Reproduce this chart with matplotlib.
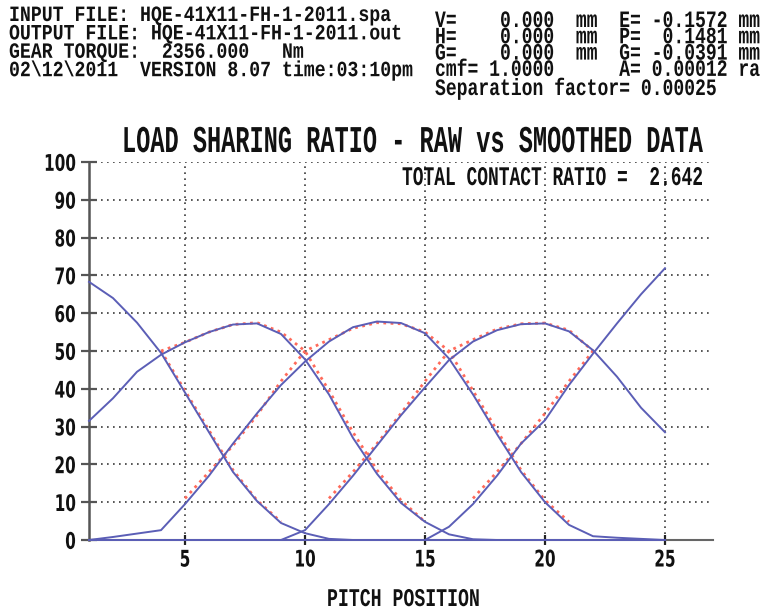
import numpy as np
import matplotlib
matplotlib.use("Agg")
import matplotlib.pyplot as plt
from matplotlib import patheffects
from matplotlib.transforms import Affine2D

# ---- data -------------------------------------------------------------
pitch = np.arange(1, 26)

raw_a = [68.3, 64.0, 57.5, 49.5, 39.0, 28.5, 18.0, 10.3, 4.5, 1.8, 0.3, 0, 0,
         0, 0, 0, 0, 0, 0, 0, 0, 0, 0, 0, 0]
raw_b = [31.5, 37.5, 44.5, 49.0, 52.3, 55.0, 57.0, 57.3, 54.5, 47.8, 38.5, 27.0,
         17.5, 9.8, 4.8, 1.5, 0.2, 0, 0, 0, 0, 0, 0, 0, 0]
raw_c = [0, 0.8, 1.7, 2.6, 9.5, 17.0, 25.5, 33.5, 41.0, 47.2, 52.5, 56.3, 57.8,
         57.4, 54.7, 48.0, 38.5, 28.0, 18.0, 10.0, 4.0, 1.0, 0.6, 0.3, 0]
raw_d = [0, 0, 0, 0, 0, 0, 0, 0, 0, 2.6, 9.5, 17.0, 25.0, 33.0, 40.4, 47.6,
         52.5, 55.5, 57.1, 57.3, 55.2, 50.2, 43.2, 35.0, 28.5]
raw_e = [0, 0, 0, 0, 0, 0, 0, 0, 0, 0, 0, 0, 0, 0, 0, 3.5, 9.5, 17.0, 25.5,
         31.7, 41.0, 49.3, 57.3, 65.0, 71.9]

nan = np.nan
smooth_a = [nan, nan, nan, 50.0, 39.5, 29.0, 18.5, 10.5, 4.8, nan, nan, nan, nan,
            nan, nan, nan, nan, nan, nan, nan, nan, nan, nan, nan, nan]
smooth_b = [nan, nan, nan, 50.0, 52.3, 55.0, 57.0, 57.5, 55.0, 50.0, 39.5, 28.5,
            18.5, 10.5, 4.8, nan, nan, nan, nan, nan, nan, nan, nan, nan, nan]
smooth_c = [nan, nan, nan, nan, 11.0, 18.0, 25.0, 33.0, 42.0, 50.0, 53.0, 56.0,
            57.5, 57.2, 55.0, 50.0, 39.5, 29.0, 18.5, 10.5, 4.8, nan, nan, nan, nan]
smooth_d = [nan, nan, nan, nan, nan, nan, nan, nan, nan, nan, 11.0, 18.0, 25.5,
            33.5, 42.0, 50.0, 53.0, 55.8, 57.2, 57.4, 55.5, 50.0, nan, nan, nan]
smooth_e = [nan, nan, nan, nan, nan, nan, nan, nan, nan, nan, nan, nan, nan, nan,
            nan, nan, 11.0, 18.0, 25.5, 33.5, 42.0, 50.0, nan, nan, nan]

raw_series = [raw_a, raw_b, raw_c, raw_d, raw_e]
smooth_series = [smooth_a, smooth_b, smooth_c, smooth_d, smooth_e]

x_ticks = [5, 10, 15, 20, 25]
y_ticks = list(range(0, 101, 10))

header_left = [
    "INPUT FILE: HQE-41X11-FH-1-2011.spa",
    "OUTPUT FILE: HQE-41X11-FH-1-2011.out",
    "GEAR TORQUE:  2356.000   Nm",
    "02\\12\\2011  VERSION 8.07 time:03:10pm",
]
header_right = [
    "V=    0.000  mm  E= -0.1572 mm",
    "H=    0.000  mm  P=  0.1481 mm",
    "G=    0.000  mm  G= -0.0391 mm",
    "cmf= 1.0000      A= 0.00012 ra",
    "Separation factor= 0.00025",
]
title = "LOAD SHARING RATIO - RAW vs SMOOTHED DATA"
contact_label = "TOTAL CONTACT RATIO =  2.642"
x_label = "PITCH POSITION"


# ---- tall printer-style lettering ------------------------------------
class Stretch(patheffects.AbstractPathEffect):
    """Scale glyph outlines about the text baseline."""

    def __init__(self, sx=1.0, sy=1.0, dy=0.0):
        super().__init__()
        self._sx, self._sy, self._dy = sx, sy, dy

    def draw_path(self, renderer, gc, tpath, affine, rgbFace=None):
        tr = Affine2D().scale(self._sx, self._sy) + affine + Affine2D().translate(0, self._dy)
        renderer.draw_path(gc, tpath, tr, rgbFace)


W, H = 764, 612
fig = plt.figure(figsize=(W / 100, H / 100), dpi=100)
fig.patch.set_facecolor("white")

ax_l, ax_r, ax_t, ax_b = 89, 713, 162, 540
ax = fig.add_axes([ax_l / W, 1 - ax_b / H, (ax_r - ax_l) / W, (ax_b - ax_t) / H])

blue = "#5b5eb6"
red = "#ff6a5a"

for s in smooth_series:
    ax.plot(pitch, s, color=red, lw=2.0, ls=(0, (1, 1.6)), clip_on=False, zorder=3)
for r in raw_series:
    ax.plot(pitch, r, color=blue, lw=1.4, clip_on=False, zorder=4)

ax.set_xlim(1, 27)
ax.set_ylim(0, 100)
ax.set_xticks(x_ticks)
ax.set_yticks(y_ticks)
ax.grid(True, ls=(0, (1, 2.6)), color="#3a3a3a", lw=1.2)
ax.set_axisbelow(True)

for side in ("top", "right"):
    ax.spines[side].set_visible(False)
ax.spines["left"].set_color("#555555")
ax.spines["left"].set_linewidth(1.8)
ax.spines["bottom"].set_color("#666666")
ax.spines["bottom"].set_linewidth(1.5)

ax.tick_params(axis="y", direction="inout", length=12, width=1.6, color="#555555",
               pad=3.5, labelsize=11, labelcolor="#111111")
ax.tick_params(axis="x", direction="inout", length=7, width=1.6, color="#222222",
               pad=3, labelsize=11, labelcolor="#111111")
for lab in ax.get_yticklabels():
    lab.set_fontweight("bold")
    lab.set_path_effects([Stretch(1.0, 1.5, -2.8)])
for lab in ax.get_xticklabels():
    lab.set_fontweight("bold")
    lab.set_path_effects([Stretch(1.0, 1.5, -5.5)])


def put(xpx, ypx, s, size, sy, weight="bold"):
    fig.text(xpx / W, 1 - ypx / H, s, fontsize=size, family="Liberation Mono",
             weight=weight, color="#111111", ha="left", va="baseline",
             path_effects=[Stretch(1.0, sy)])


for i, line in enumerate(header_left):
    put(9, 21 + 18.4 * i, line, 13.1, 1.2)
for i, line in enumerate(header_right[:4]):
    put(435, 27 + 16.3 * i, line, 13.0, 1.3)
put(435, 95, header_right[4], 13.0, 1.3)

put(122, 152, title, 17.0, 1.6)
put(402, 185, contact_label, 12.9, 1.5)
put(327, 606, x_label, 13.1, 1.4)

fig.savefig("out.png", dpi=100, facecolor="white")
